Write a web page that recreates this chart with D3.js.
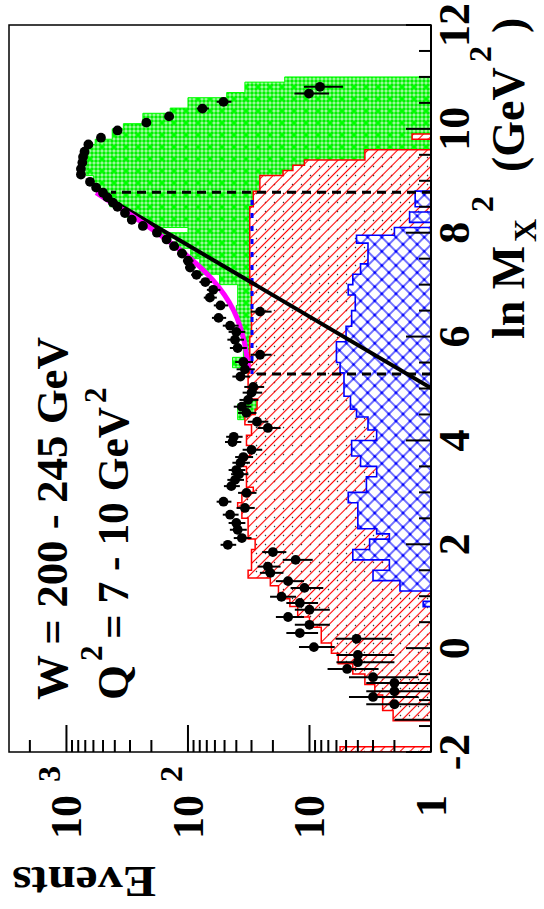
<!DOCTYPE html>
<html>
<head>
<meta charset="utf-8">
<script src="https://cdn.jsdelivr.net/npm/d3@7"></script>
<style>
  body { margin: 0; background: #fff; }
  svg { display: block; }
  text { font-family: "Liberation Serif", "DejaVu Serif", serif; font-weight: bold; fill: #000; }
</style>
</head>
<body>
<script>
// ---- histograms: bin edges (ln Mx^2) and bin contents (events) ----
const redEdges = [-2.0, -1.9, -1.4, -1.2, -0.9, -0.7, -0.5, -0.3, -0.1, 0.1, 0.4, 0.6, 0.8, 0.95, 1.2, 1.35, 1.5, 1.9, 2.1, 2.5,
  2.7, 2.8, 3.0, 3.1, 3.5, 3.7, 3.9, 4.1, 4.3, 4.5, 4.6, 4.8, 5.0, 5.3, 6.0, 7.0, 8.0, 8.5, 8.8, 9.1, 9.2, 9.3, 9.4, 9.6, 9.8, 9.9];
const redCounts = [5.6, 0, 2.05, 2.5, 2.9, 3.5, 4.4, 5.8, 6.6, 8.0, 10, 12.5, 14.5, 18, 21, 32, 30, 28, 32, 36,
  39, 36, 29, 33, 35, 31, 33, 30, 34, 28, 27, 31, 32, 31, 30, 31, 31, 29, 25.6, 16.5, 13.7, 11, 3.5, 0, 1.43];

const greenEdges = [4.4, 4.7, 5.3, 5.4, 5.6, 6.0, 6.3, 6.6, 7.0, 7.2, 7.5, 7.7, 7.9, 8.0, 8.1, 8.3, 8.5, 8.7, 8.8, 8.9,
  9.1, 9.7, 9.8, 10.0, 10.1, 10.3, 10.4, 10.6, 10.7, 10.9, 11.0];
const greenCounts = [39, 31, 33, 43, 35, 37, 40, 39, 55, 80, 95, 125, 165, 100, 230, 320, 440, 540, 560, 600,
  690, 580, 420, 340, 235, 140, 100, 48, 34, 16];

const blueEdges = [0.8, 0.9, 1.1, 1.3, 1.5, 1.7, 1.9, 2.1, 2.2, 2.3, 2.8, 3.0, 3.3, 3.5, 3.7, 4.0, 4.2, 4.45, 4.6, 4.85,
  5.3, 5.5, 5.9, 6.2, 6.5, 6.8, 7.0, 7.2, 7.4, 7.6, 7.8, 7.95, 8.1, 8.2, 8.4, 8.5, 8.8];
const blueCounts = [1.16, 0, 1.8, 3.0, 2.2, 4.4, 3.2, 2.2, 2.8, 4.0, 4.8, 3.4, 2.8, 3.8, 4.5, 2.8, 3.3, 4.1, 4.6, 5.2,
  5.6, 6.0, 5.0, 4.5, 4.2, 4.8, 4.4, 3.8, 3.3, 3.3, 4.1, 2.0, 0, 1.5, 0, 1.35];

// ---- data points ----
const dataX = [-1.38, -1.08, -0.94, -0.83, -0.67, -0.56, -0.40, -0.27, -0.13, 0.02,
  0.18, 0.29, 0.45, 0.60, 0.74, 0.87, 0.99, 1.16, 1.29, 1.45,
  1.57, 1.70, 1.85, 1.99, 2.12, 2.28, 2.41, 2.57, 2.70, 2.82,
  2.99, 3.12, 3.24, 3.35, 3.43, 3.57, 3.68, 3.82, 3.97, 4.07,
  4.24, 4.36, 4.53, 4.65, 4.78, 4.92, 5.03, 5.23, 5.37, 5.51,
  5.65, 5.78, 5.94, 6.09, 6.21, 6.36, 6.48, 6.60, 6.75, 6.90,
  7.05, 7.19, 7.33, 7.46, 7.60, 7.74, 7.87, 8.00, 8.13, 8.25,
  8.38, 8.50, 8.58, 8.68, 8.77, 8.87, 8.98, 9.12, 9.23, 9.35,
  9.46, 9.56, 9.70, 9.83, 9.97, 10.12, 10.24, 10.39, 10.52, 10.68, 10.81];
const dataY = [1, 2.0, 3.0, 2.0, 2.0, 3.0, 4.9, 4.0, 4.0, 9.2,
  4.1, 12, 10, 15, 10, 12, 17, 11, 15, 21,
  22, 13, 20, 47, 36, 39, 40, 45, 34, 51,
  33, 44, 41, 38, 40, 37, 35, 30, 43, 42,
  22, 27, 33, 36, 32, 30, 29, 37, 34, 35,
  25.5, 39, 41, 40, 45, 56, 25.5, 54, 66, 62,
  72, 85, 96, 100, 112, 130, 150, 180, 235, 290,
  330, 380, 415, 460, 500, 570, 640, 760, 760, 740,
  730, 710, 660, 520, 380, 220, 143, 76, 51, 10.1, 8.2];
const dataErr = [1.0, 1.41, 1.73, 1.41, 1.41, 1.73, 2.2, 2.0, 2.0, 3.0,
  2.0, 3.5, 3.2, 3.9, 3.2, 3.5, 4.1, 3.3, 3.9, 4.6,
  4.7, 3.6, 4.5, 6.9, 6.0, 6.2, 6.3, 6.7, 5.8, 7.1,
  5.7, 6.6, 6.4, 6.2, 6.3, 6.1, 5.9, 5.5, 6.6, 6.5,
  4.7, 5.2, 5.7, 6.0, 5.7, 5.5, 5.4, 6.1, 5.8, 5.9,
  5.0, 6.2, 6.4, 6.3, 6.7, 7.5, 5.0, 7.3, 8.1, 7.9,
  8.5, 9.2, 9.8, 10, 10.6, 11.4, 12.2, 13.4, 15.3, 17,
  18.2, 19.5, 20.4, 21.4, 22.4, 23.9, 25.3, 27.6, 27.6, 27.2,
  27, 26.6, 25.7, 22.8, 19.5, 14.8, 12, 8.7, 7.1, 3.2, 2.9];

// ---- fits ----
const fitX = [5.01, 8.79];
const fitY = [1, 561];
const magX = [5.33, 5.6, 5.9, 6.2, 6.5, 6.8, 7.1, 7.4, 7.7, 8.0, 8.3, 8.6, 8.77];
const magY = [31.5, 32.7, 34.4, 37.3, 42, 50, 63, 85, 121, 180, 277, 439, 570];
const dashX = [5.28, 8.78];
const dashTop = [30, 430];
const plateauY = 29.7;

// ---- axes ----
const xMajor = [-2, 0, 2, 4, 6, 8, 10, 12];
const yTickVals = [1, 10, 100, 1000];
const yTickBase = ["1", "10", "10", "10"];
const yTickExp = ["", "", "2", "3"];

// drawn in an unrotated frame (909 x 544), then turned 90 deg to fit the page
const svg = d3.select("body").append("svg").attr("width", 544).attr("height", 909);
const defs = svg.append("defs");

let p = defs.append("pattern").attr("id", "redHatch").attr("patternUnits", "userSpaceOnUse")
  .attr("width", 7).attr("height", 7).attr("patternTransform", "rotate(-45)");
p.append("line").attr("x1", 3.5).attr("y1", 0).attr("x2", 3.5).attr("y2", 7)
  .attr("stroke", "#ff0000").attr("stroke-width", 1.1);

p = defs.append("pattern").attr("id", "dots").attr("patternUnits", "userSpaceOnUse")
  .attr("width", 9).attr("height", 9);
p.append("circle").attr("cx", 4.5).attr("cy", 4.5).attr("r", 0.8).attr("fill", "#333");

p = defs.append("pattern").attr("id", "blueHatch").attr("patternUnits", "userSpaceOnUse")
  .attr("width", 10).attr("height", 10).attr("patternTransform", "rotate(45)");
p.append("line").attr("x1", 5).attr("y1", 0).attr("x2", 5).attr("y2", 10).attr("stroke", "#0000ff").attr("stroke-width", 1.1);
p.append("line").attr("x1", 0).attr("y1", 5).attr("x2", 10).attr("y2", 5).attr("stroke", "#0000ff").attr("stroke-width", 1.1);
p.append("circle").attr("cx", 5).attr("cy", 5).attr("r", 1.4).attr("fill", "#0000ff");

p = defs.append("pattern").attr("id", "greenMesh").attr("patternUnits", "userSpaceOnUse")
  .attr("width", 4).attr("height", 4);
p.append("rect").attr("width", 4).attr("height", 4).attr("fill", "#00f000");
p.append("circle").attr("cx", 2).attr("cy", 2).attr("r", 1.1).attr("fill", "none")
  .attr("stroke", "#ffffff").attr("stroke-width", 0.8);

p = defs.append("pattern").attr("id", "greenDots").attr("patternUnits", "userSpaceOnUse")
  .attr("width", 12).attr("height", 12);
p.append("circle").attr("cx", 6).attr("cy", 6).attr("r", 2.1).attr("fill", "#00ff00");

defs.append("clipPath").attr("id", "plotClip").append("rect")
  .attr("x", 157).attr("y", 9).attr("width", 727).attr("height", 422);

const g = svg.append("g").attr("transform", "translate(0,909) rotate(-90)");

const x = d3.scaleLinear().domain([-2, 12]).range([157, 884]);
const y = d3.scaleLog().domain([1, 2970]).range([431, 9]);
const yv = v => y(Math.max(v, 1));

const stepPts = (edges, vals) => {
  const pts = [[edges[0], 1]];
  vals.forEach((v, i) => { pts.push([edges[i], v], [edges[i + 1], v]); });
  pts.push([edges[edges.length - 1], 1]);
  return pts;
};
const stepLine = d3.line().x(d => x(d[0])).y(d => yv(d[1]));

const plot = g.append("g").attr("clip-path", "url(#plotClip)");

// green: total
const greenD = stepLine(stepPts(greenEdges, greenCounts));
plot.append("path").attr("d", greenD).attr("fill", "url(#greenMesh)");
plot.append("path").attr("d", greenD).attr("fill", "url(#greenDots)");
plot.append("path").attr("d", greenD).attr("fill", "none").attr("stroke", "#00ff00").attr("stroke-width", 1);

// red hatched
const redD = stepLine(stepPts(redEdges, redCounts));
plot.append("path").attr("d", redD).attr("fill", "#fff");
plot.append("path").attr("d", redD).attr("fill", "url(#dots)");
plot.append("path").attr("d", redD).attr("fill", "url(#redHatch)");
plot.append("path").attr("d", redD).attr("fill", "none").attr("stroke", "#ff0000").attr("stroke-width", 1.5);

// blue cross-hatched
const blueD = stepLine(stepPts(blueEdges, blueCounts));
plot.append("path").attr("d", blueD).attr("fill", "#fff");
plot.append("path").attr("d", blueD).attr("fill", "url(#blueHatch)");
plot.append("path").attr("d", blueD).attr("fill", "none").attr("stroke", "#0000ff").attr("stroke-width", 1.6);

// dashed markers of the fit range
plot.selectAll(".dash").data(dashX).join("line")
  .attr("x1", d => x(d)).attr("x2", d => x(d))
  .attr("y1", y(1)).attr("y2", (d, i) => y(dashTop[i]))
  .attr("stroke", "#000").attr("stroke-width", 3).attr("stroke-dasharray", "9,6");
plot.append("line")
  .attr("x1", x(dashX[0])).attr("x2", x(dashX[1]))
  .attr("y1", y(plateauY)).attr("y2", y(plateauY))
  .attr("stroke", "#0000ff").attr("stroke-width", 3).attr("stroke-dasharray", "5,8");

// exponential fit and fit + constant
plot.append("path").datum(fitX.map((d, i) => [d, fitY[i]]))
  .attr("d", d3.line().x(d => x(d[0])).y(d => y(d[1])))
  .attr("fill", "none").attr("stroke", "#000").attr("stroke-width", 4);
plot.append("path").datum(magX.map((d, i) => [d, magY[i]]))
  .attr("d", d3.line().curve(d3.curveMonotoneX).x(d => x(d[0])).y(d => y(d[1])))
  .attr("fill", "none").attr("stroke", "#ff00ff").attr("stroke-width", 5);

// data with error bars
const pts = dataX.map((d, i) => ({x: d, y: dataY[i], e: dataErr[i]}));
plot.selectAll(".err").data(pts).join("line")
  .attr("x1", d => x(d.x)).attr("x2", d => x(d.x))
  .attr("y1", d => yv(d.y - d.e)).attr("y2", d => yv(d.y + d.e))
  .attr("stroke", "#000").attr("stroke-width", 2);
plot.selectAll(".pt").data(pts.filter(d => d.y > 1)).join("circle")
  .attr("cx", d => x(d.x)).attr("cy", d => y(d.y)).attr("r", 4.9).attr("fill", "#000");

// frame and ticks
g.append("rect").attr("x", 157).attr("y", 9).attr("width", 727).attr("height", 422)
  .attr("fill", "none").attr("stroke", "#000").attr("stroke-width", 1.5);
g.append("line").attr("x1", 157).attr("x2", 884).attr("y1", 431).attr("y2", 431)
  .attr("stroke", "#000").attr("stroke-width", 2);

g.selectAll(".xt").data(d3.range(-2, 12.001, 0.5)).join("line")
  .attr("x1", d => x(d)).attr("x2", d => x(d))
  .attr("y1", 431).attr("y2", d => xMajor.includes(d) ? 406 : 419)
  .attr("stroke", "#000").attr("stroke-width", 2);
g.selectAll(".xl").data(xMajor).join("text")
  .attr("x", d => x(d)).attr("y", 469).attr("text-anchor", "middle")
  .style("font-size", "44px").text(d => d);

g.selectAll(".yt").data(y.ticks()).join("line")
  .attr("x1", 157).attr("x2", d => Number.isInteger(Math.log10(d)) ? 184 : 169)
  .attr("y1", d => y(d)).attr("y2", d => y(d))
  .attr("stroke", "#000").attr("stroke-width", 2);
g.selectAll(".yl").data(yTickVals).join("text")
  .attr("x", 114).attr("y", d => y(d) + 15).attr("text-anchor", "end")
  .style("font-size", "44px").text((d, i) => yTickBase[i]);
g.selectAll(".ye").data(yTickVals).join("text")
  .attr("x", 127).attr("y", d => y(d) - 6)
  .style("font-size", "32px").text((d, i) => yTickExp[i]);

// axis titles
const xt = g.append("text").attr("y", 524).style("font-size", "46px");
xt.append("tspan").attr("x", 570).text("ln M");
xt.append("tspan").attr("x", 667).attr("y", 536).style("font-size", "32px").text("X");
xt.append("tspan").attr("x", 697).attr("y", 493).style("font-size", "32px").text("2");
xt.append("tspan").attr("x", 737).attr("y", 524).text("(GeV");
xt.append("tspan").attr("x", 847).attr("y", 491).style("font-size", "32px").text("2");
xt.append("tspan").attr("x", 876).attr("y", 524).text(")");

g.append("text").attr("transform", "translate(42,12) rotate(-90)")
  .attr("text-anchor", "end").attr("textLength", 144).attr("lengthAdjust", "spacingAndGlyphs")
  .style("font-size", "44px").text("Events");

// labels
g.append("text").attr("x", 209).attr("y", 67).attr("textLength", 363).attr("lengthAdjust", "spacingAndGlyphs")
  .style("font-size", "45px").text("W = 200 - 245 GeV");
g.append("text").attr("x", 209).attr("y", 128).style("font-size", "45px").text("Q");
g.append("text").attr("x", 248).attr("y", 102).style("font-size", "31px").text("2");
g.append("text").attr("x", 270).attr("y", 128).attr("textLength", 232).attr("lengthAdjust", "spacingAndGlyphs")
  .style("font-size", "45px").text("= 7 - 10 GeV");
g.append("text").attr("x", 506).attr("y", 106).style("font-size", "31px").text("2");
</script>
</body>
</html>
